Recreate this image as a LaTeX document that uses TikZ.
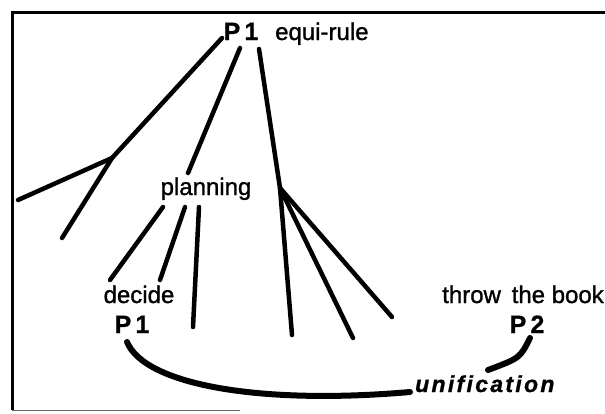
\documentclass[tikz,border=0pt]{standalone}
\usepackage{fontspec}
\setmainfont{Liberation Sans}
\usetikzlibrary{positioning}

\begin{document}
\begin{tikzpicture}[
  x=1pt,y=-1pt,
  word/.style={font=\fontsize{24}{26}\selectfont\addfontfeature{FakeBold=1.2},inner sep=0pt,anchor=base},
  tag/.style={font=\fontsize{25}{26}\selectfont\bfseries\addfontfeature{FakeBold=1},inner sep=0pt,anchor=base},
  branch/.style={line width=4.5pt,line cap=round},
  link/.style={line width=6pt,line cap=round}
]
\useasboundingbox (0,0) rectangle (605,413);
% frame
\draw[line width=3pt] (605,12) -- (12,12) -- (12,410);
\draw[line width=1pt,black!60] (12,410) -- (240,410);

\node[tag] (p1top) at (241,40) {P\,1};
\node[word,anchor=base west] (rule) at (275,40) {equi-rule};
\node[word] (plan) at (206,195) {planning};
\node[word] (decide) at (139,303) {decide};
\node[tag] (p1) at (132,333) {P\,1};
\node[word,anchor=base east] (book) at (604,303) {throw\hspace{0.45em}the book};
\node[tag] (p2) at (527,333) {P\,2};
\node[word,anchor=base west,font=\fontsize{23}{26}\selectfont\bfseries\itshape\addfontfeature{LetterSpace=10,FakeBold=1}] (unif) at (415,392) {unification};

% junctions and loose ends
\coordinate (ja) at (112,158);
\coordinate (jb) at (280,188);
\coordinate (ea) at (62,238);
\coordinate (eb) at (18,200);
\coordinate (ec) at (110,280);
\coordinate (ed) at (160,280);
\coordinate (ee) at (193,327);
\coordinate (ef) at (292,335);
\coordinate (eg) at (353,338);
\coordinate (eh) at (392,317);

% tree under equi-rule
\draw[branch] (222,38) -- (ja) -- (ea);
\draw[branch] (ja) -- (eb);
\draw[branch] (240,48) -- (188,173);
\draw[branch] (259,49) -- (jb) -- (ef);
\draw[branch] (jb) -- (eg);
\draw[branch] (jb) -- (eh);

% below planning
\draw[branch] (163,207) -- (ec);
\draw[branch] (185,207) -- (ed);
\draw[branch] (199,207) -- (ee);

% unification
\draw[link] (127,342) .. controls (145,385) and (260,405) .. (410,392);
\draw[link] (530,338) .. controls (520,358) .. (488,370);
\end{tikzpicture}
\end{document}
